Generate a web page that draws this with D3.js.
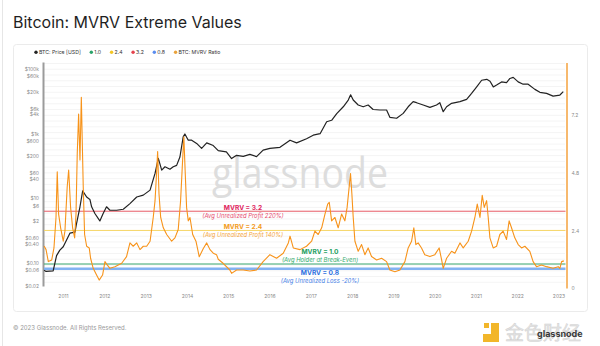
<!DOCTYPE html>
<html><head><meta charset="utf-8">
<script src="https://cdn.jsdelivr.net/npm/d3@7"></script>
<style>html,body{margin:0;padding:0;background:#fff;}svg{display:block;font-family:Inter,"Open Sans",sans-serif;}</style>
</head><body><svg id="c" width="600" height="346"></svg>
<script>
const priceDates = ["2010-07-18","2010-08-04","2010-10-06","2010-11-05","2010-12-04","2011-01-03","2011-03-03","2011-04-17","2011-05-01","2011-05-31","2011-06-24","2011-07-29","2011-08-27","2011-09-11","2011-10-10","2011-11-08","2011-11-23","2011-12-22","2012-01-21","2012-02-20","2012-04-19","2012-06-17","2012-08-15","2012-10-14","2012-12-11","2013-02-09","2013-03-25","2013-04-23","2013-05-23","2013-06-21","2013-08-04","2013-09-02","2013-10-02","2013-10-31","2013-11-29","2013-12-14","2014-01-13","2014-02-12","2014-03-28","2014-05-11","2014-06-25","2014-08-22","2014-10-05","2014-12-16","2015-01-31","2015-03-16","2015-05-14","2015-07-12","2015-09-09","2015-11-06","2016-01-05","2016-04-03","2016-07-01","2016-08-28","2016-11-24","2017-01-22","2017-03-24","2017-05-21","2017-07-04","2017-08-18","2017-10-15","2017-11-28","2017-12-19","2018-01-11","2018-02-24","2018-04-09","2018-05-23","2018-07-06","2018-09-04","2018-11-02","2018-12-01","2019-01-30","2019-03-29","2019-05-12","2019-06-25","2019-07-25","2019-09-22","2019-11-20","2020-01-18","2020-02-16","2020-03-17","2020-04-16","2020-05-30","2020-08-12","2020-10-10","2020-11-23","2021-01-07","2021-02-20","2021-04-06","2021-05-05","2021-06-03","2021-07-02","2021-08-15","2021-09-28","2021-10-28","2021-11-26","2022-01-09","2022-02-22","2022-04-07","2022-06-06","2022-07-20","2022-09-17","2022-11-14","2023-01-13","2023-02-12"];
const priceValues = [0.06,0.055,0.057,0.17,0.25,0.32,0.84,0.9,1.7,5.5,17,11,9.3,5.5,3.4,2.4,2.0,3.4,5.5,4.3,4.3,4.6,6.9,11,12.6,18,59,172,75,95,80,95,105,190,800,980,630,630,500,350,520,430,300,275,170,215,200,230,195,310,350,380,630,520,700,900,1000,2350,2600,4200,6800,11000,16000,11000,7700,6800,7700,5600,5400,5400,3200,3000,4250,6800,9800,9100,7700,6500,7700,9100,4800,6800,8700,9800,11500,17600,28000,45000,48000,42000,28000,32000,40000,38000,51000,55000,40000,34000,34000,23500,19000,17600,14500,15700,20000];
const mvrvDates = ["2010-07-18","2010-08-04","2010-08-24","2010-09-23","2010-10-13","2010-10-31","2010-11-11","2010-11-23","2010-12-11","2011-01-03","2011-01-18","2011-02-07","2011-02-20","2011-03-09","2011-03-27","2011-04-14","2011-04-26","2011-05-07","2011-05-19","2011-05-31","2011-06-12","2011-06-20","2011-06-29","2011-07-11","2011-07-29","2011-08-21","2011-09-02","2011-09-25","2011-10-25","2011-11-17","2011-12-17","2012-01-07","2012-01-27","2012-02-20","2012-04-04","2012-06-03","2012-07-16","2012-08-15","2012-09-13","2012-10-14","2012-11-12","2012-12-11","2013-01-10","2013-02-09","2013-03-09","2013-03-25","2013-04-09","2013-04-17","2013-04-29","2013-05-14","2013-06-06","2013-07-06","2013-08-19","2013-09-17","2013-10-16","2013-11-06","2013-11-24","2013-12-05","2013-12-16","2013-12-29","2014-01-13","2014-01-28","2014-02-21","2014-03-22","2014-04-20","2014-05-26","2014-06-25","2014-07-24","2014-08-22","2014-09-20","2014-10-05","2014-11-17","2015-01-16","2015-01-31","2015-03-16","2015-05-14","2015-07-12","2015-09-09","2015-11-06","2016-01-05","2016-03-04","2016-05-02","2016-06-16","2016-07-01","2016-07-30","2016-09-27","2016-11-24","2017-01-08","2017-02-06","2017-03-07","2017-04-07","2017-05-06","2017-05-30","2017-06-13","2017-07-04","2017-08-02","2017-08-31","2017-09-30","2017-10-29","2017-11-18","2017-12-06","2017-12-18","2017-12-30","2018-01-11","2018-01-26","2018-02-24","2018-03-26","2018-04-24","2018-05-23","2018-06-22","2018-08-06","2018-09-19","2018-11-02","2018-12-01","2019-01-15","2019-02-28","2019-04-13","2019-05-12","2019-06-11","2019-07-01","2019-07-19","2019-08-08","2019-09-07","2019-10-06","2019-11-20","2020-01-03","2020-02-10","2020-03-03","2020-03-17","2020-04-16","2020-05-30","2020-06-28","2020-08-12","2020-09-10","2020-10-24","2020-11-23","2020-12-22","2021-01-12","2021-02-05","2021-02-25","2021-03-15","2021-04-05","2021-04-19","2021-05-04","2021-06-02","2021-07-02","2021-07-31","2021-08-29","2021-09-28","2021-10-21","2021-11-11","2021-12-10","2022-01-09","2022-02-08","2022-03-09","2022-04-22","2022-05-21","2022-06-20","2022-08-03","2022-09-17","2022-11-14","2022-12-29","2023-01-13","2023-01-28","2023-02-17"];
const mvrvValues = [1.75,1.60,1.10,1.17,1.67,2.94,4.84,3.08,2.51,1.95,2.37,4.21,4.92,3.36,2.51,2.09,3.08,5.62,7.25,5.34,7.95,6.19,4.20,2.23,1.74,1.67,1.24,0.82,0.54,0.33,0.54,1.10,0.96,0.82,0.89,1.03,1.31,1.88,1.74,1.88,1.60,1.74,1.74,1.95,2.94,3.64,4.92,5.69,3.93,2.94,2.51,2.23,1.95,2.09,2.44,3.64,5.34,6.30,4.92,3.36,2.80,2.94,2.23,1.95,1.30,1.65,1.88,1.60,1.45,1.39,1.20,1.03,0.75,0.61,0.75,0.75,0.71,0.75,1.10,1.39,1.24,1.45,1.88,2.16,1.67,1.60,1.74,1.95,2.37,2.23,2.51,3.08,3.50,3.57,2.80,2.94,2.51,3.08,2.80,3.36,4.21,4.77,3.93,2.94,1.95,1.53,1.81,1.39,1.67,1.31,1.17,1.24,1.10,0.75,0.68,0.75,1.10,1.67,1.95,2.51,1.81,1.88,1.67,1.39,1.31,1.39,1.67,1.17,0.82,1.24,1.53,1.45,1.88,1.67,1.95,2.37,2.94,3.50,2.94,3.86,3.36,3.64,2.94,2.09,1.67,1.74,2.23,2.37,2.02,2.80,2.51,2.09,1.81,1.67,1.74,1.53,1.10,0.89,0.96,0.89,0.82,0.89,0.82,1.10,1.13];
const yearTicks = [2011,2012,2013,2014,2015,2016,2017,2018,2019,2020,2021,2022,2023];
const priceTickValues = [0.02,0.06,0.1,0.4,0.6,2,6,10,40,60,200,600,1000,4000,6000,20000,60000,100000];
const priceTickLabels = ["$0.02","$0.06","$0.10","$0.40","$0.60","$2","$6","$10","$40","$60","$200","$600","$1k","$4k","$6k","$20k","$60k","$100k"];
const mvrvTickValues = [0,2.4,4.8,7.2];
const mvrvTickLabels = ["0","2.4","4.8","7.2"];
const levelValues = [3.2,2.4,1.0,0.8];
const levelTitles = ["MVRV = 3.2","MVRV = 2.4","MVRV = 1.0","MVRV = 0.8"];
const levelNotes = ["(Avg Unrealized Profit 220%)","(Avg Unrealized Profit 140%)","(Avg Holder at Break-Even)","(Avg Unrealized Loss -20%)"];
const legendLabels = ["BTC: Price [USD]","1.0","2.4","3.2","0.8","BTC: MVRV Ratio"];

const parse = d3.utcParse("%Y-%m-%d");
const svg = d3.select("#c");
const C = {price:"#222222", mvrv:"#f7931a", l32:"#e65a66", l24:"#f6d565", l10:"#35a56c", l08:"#82b2f2"};
const legendColors = [C.price, "#2aa36a", "#f3c623", "#e5424d", "#5b8def", "#e9a23b"];
const lineColors = [C.l32, C.l24, C.l10, C.l08];
const lineWidths = [1, 1, 1, 2.6];
const titleColors = ["#e0245e","#f39c1e","#22a060","#2d6fe0"];
const noteColors = ["#e54b6f","#f5a640","#35ad6f","#4a84e8"];

// page chrome
svg.append("line").attr("x1",2.5).attr("x2",2.5).attr("y1",0).attr("y2",346).attr("stroke","#e6e6e6");
svg.append("text").attr("x",13).attr("y",28).attr("font-size",16).attr("fill","#1f1f1f").text("Bitcoin: MVRV Extreme Values");
svg.append("rect").attr("x",13.5).attr("y",44.5).attr("width",574).attr("height",267).attr("rx",3).attr("fill","#fff").attr("stroke","#ebebeb");
svg.append("text").attr("x",13).attr("y",330).attr("font-size",6).attr("fill","#9a9a9a").text("© 2023 Glassnode. All Rights Reserved.");

// scales
const x = d3.scaleUtc().domain([parse("2010-07-08"), parse("2023-03-08")]).range([43, 566]);
const yL = d3.scaleLog().domain([0.0195, 165000]).range([286, 62]);
const yR = d3.scaleLinear().domain([0, 9.4]).range([288, 62.5]);

// grid
const grid = svg.append("g");
d3.range(1, 40).forEach(i => {
  const v = i * 0.24;
  grid.append("line").attr("x1",44).attr("x2",565).attr("y1",yR(v)).attr("y2",yR(v)).attr("stroke","#f1f1f1").attr("stroke-width",0.8);
});

// watermark
svg.append("text").attr("x",300).attr("y",188).attr("text-anchor","middle").attr("font-size",42).attr("font-weight",500).attr("font-family","'Open Sans',sans-serif")
  .attr("textLength",176).attr("lengthAdjust","spacingAndGlyphs").attr("fill","#dddddd").text("glassnode");

// legend
let lx = 36;
legendLabels.forEach((t, i) => {
  svg.append("circle").attr("cx", lx).attr("cy", 52.3).attr("r", 1.7).attr("fill", legendColors[i]);
  const tx = svg.append("text").attr("x", lx + 3).attr("y", 54.2).attr("font-size", 5.2).attr("fill", "#333").text(t);
  lx += 3 + tx.node().getComputedTextLength() + 10.5;
});

// axes
const axL = svg.append("g").attr("transform","translate(43,0)")
  .call(d3.axisLeft(yL).tickValues(priceTickValues).tickFormat((d,i)=>priceTickLabels[i]).tickSize(0).tickPadding(4));
axL.select(".domain").attr("stroke","#9b9b9b").attr("stroke-width",2);
axL.selectAll("text").attr("font-size",5).attr("fill","#8a8a8a").attr("font-family","Inter,sans-serif");

const axR = svg.append("g").attr("transform","translate(566.5,0)")
  .call(d3.axisRight(yR).tickValues(mvrvTickValues).tickFormat((d,i)=>mvrvTickLabels[i]).tickSize(0).tickPadding(5));
axR.select(".domain").attr("stroke","#f5a84a").attr("stroke-width",1.6);
axR.selectAll("text").attr("font-size",5).attr("fill","#8a8a8a").attr("font-family","Inter,sans-serif");

const axB = svg.append("g").attr("transform","translate(0,289)")
  .call(d3.axisBottom(x).tickValues(yearTicks.map(y=>new Date(Date.UTC(y,0,1)))).tickFormat(d3.utcFormat("%Y")).tickSize(0).tickPadding(5));
axB.select(".domain").remove();
axB.selectAll("text").attr("font-size",5).attr("fill","#8a8a8a").attr("font-family","Inter,sans-serif");

// level lines
levelValues.forEach((v,i)=>{
  svg.append("line").attr("x1",44).attr("x2",565.5).attr("y1",yR(v)).attr("y2",yR(v)).attr("stroke",lineColors[i]).attr("stroke-width",lineWidths[i]);
});

// price line
const priceData = priceDates.map((d,i)=>({d:parse(d), v:priceValues[i]}));
svg.append("path").datum(priceData).attr("fill","none").attr("stroke",C.price).attr("stroke-width",1.2).attr("stroke-linejoin","round")
  .attr("d", d3.line().x(p=>x(p.d)).y(p=>yL(p.v)));

// mvrv line
const mvrvData = mvrvDates.map((d,i)=>({d:parse(d), v:mvrvValues[i]}));
svg.append("path").datum(mvrvData).attr("fill","none").attr("stroke",C.mvrv).attr("stroke-width",1.1).attr("stroke-linejoin","round")
  .attr("d", d3.line().x(p=>x(p.d)).y(p=>yR(p.v)));

// annotations
const annX = [243, 243, 320, 320];
const titleDy = [-1.2, -1.6, -10.2, 6.6];
const noteDy = [7, 6.6, -2.4, 14.4];
levelValues.forEach((v,i)=>{
  const y0 = yR(v);
  svg.append("text").attr("x",annX[i]).attr("y",y0+titleDy[i]).attr("text-anchor","middle").attr("font-size",6.6).attr("font-weight",700)
    .attr("fill",titleColors[i]).text(levelTitles[i]);
  svg.append("text").attr("x",annX[i]).attr("y",y0+noteDy[i]).attr("text-anchor","middle").attr("font-size",5.9).attr("font-style","italic")
    .attr("fill",noteColors[i]).text(levelNotes[i]);
});

// corner logo watermark
const lg = svg.append("g");
lg.append("rect").attr("x",484).attr("y",323).attr("width",5).attr("height",5).attr("fill","#f2b62a");
lg.append("path").attr("d","M491,323 h8 v19 h-16 v-8 h8 z").attr("fill","#f2b62a");
lg.append("text").attr("x",505).attr("y",340).attr("font-size",19).attr("font-family","'Noto Sans CJK SC',sans-serif")
  .attr("fill","#e3e3e3").attr("stroke","#cfcfcf").attr("stroke-width",0.4).text("金色财经");
lg.append("text").attr("x",537).attr("y",337).attr("font-size",9).attr("font-weight",700).attr("fill","#3a3a3a").text("glassnode");
</script></body></html>
